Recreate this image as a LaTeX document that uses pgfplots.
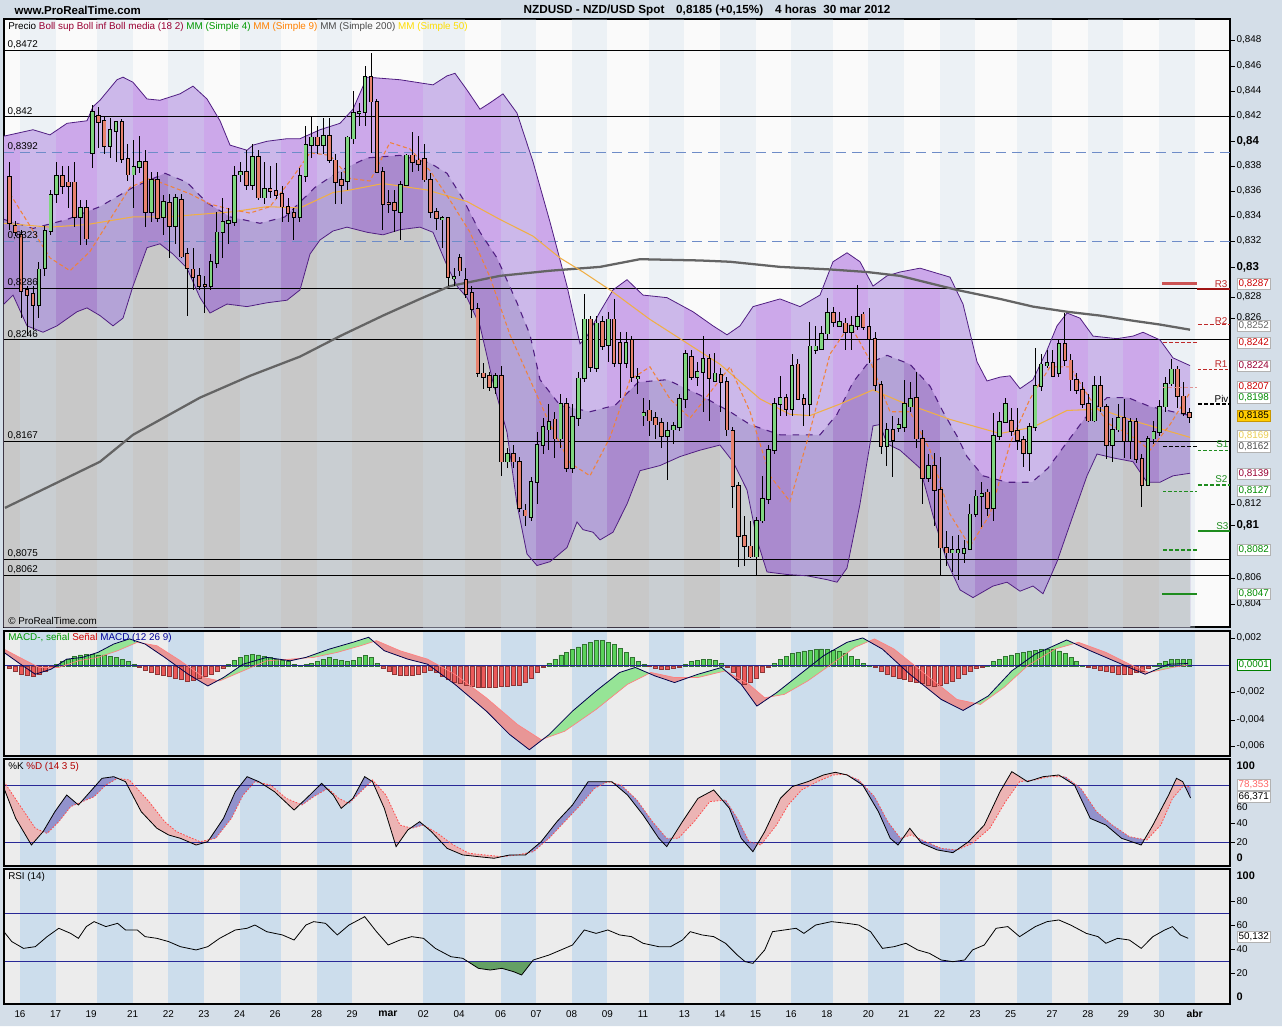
\documentclass[border=0pt]{standalone}
\usepackage{fontspec}
\setmainfont{Liberation Sans}
\usepackage{pgfplots}
\usepackage{pgfplotstable}
\pgfplotsset{compat=1.18}
\usepgfplotslibrary{fillbetween}

\definecolor{bgout}{RGB}{212,222,232}
\definecolor{stripe}{RGB}{204,221,236}
\definecolor{panelbg}{RGB}{236,236,236}
\definecolor{pricebg}{RGB}{250,250,250}
\definecolor{bollup}{RGB}{204,168,234}
\definecolor{bolldn}{RGB}{170,138,206}
\definecolor{greyarea}{RGB}{200,200,200}
\definecolor{bollline}{RGB}{80,30,130}
\definecolor{candg}{RGB}{128,214,128}
\definecolor{candr}{RGB}{232,130,110}
\definecolor{ma200}{RGB}{100,100,100}
\definecolor{ma50}{RGB}{240,175,70}
\definecolor{ma9}{RGB}{240,130,60}
\definecolor{histg}{RGB}{90,210,90}
\definecolor{histr}{RGB}{235,90,90}
\definecolor{ribg}{RGB}{150,228,150}
\definecolor{ribr}{RGB}{232,150,150}
\definecolor{kblue}{RGB}{146,146,204}
\definecolor{dpink}{RGB}{236,180,180}
\definecolor{lvlblue}{RGB}{40,40,150}
\definecolor{dashblue}{RGB}{110,140,200}
\definecolor{pivred}{RGB}{190,40,40}
\definecolor{pivdark}{RGB}{160,20,20}
\definecolor{pivgreen}{RGB}{30,140,30}
\definecolor{rsigreen}{RGB}{100,160,100}

% even calendar days are shaded
\newcommand\daystripes[3]{%
  \foreach \a/\b in {20/55.6,97.1/132.7,168.3/203.9,239.5/281,316.6/352.2,423.4/464.9,500.5/536.1,571.7/607.3,648.8/684.4,720/755.6,791.2/832.7,868.3/903.9,939.5/975.1,1016.6/1052.2,1087.8/1123.4,1159/1194.6}{%
    \edef\tmp{\noexpand\fill[#1] (axis cs:\a,#2) rectangle (axis cs:\b,#3);}\tmp}}

\pgfplotsset{
  panel/.style={scale only axis, width=919.5pt, xmin=4, xmax=1230,
    xtick=\empty, ytick=\empty, anchor=north west,
    axis line style={line width=0.8pt}, clip=true},
  wick/.style={draw=none, no markers, forget plot, error bars/.cd, y dir=both, y explicit,
    error mark=none, error bar style={draw=black, line width=0.75pt}},
  bodyo/.style={draw=none, no markers, forget plot, error bars/.cd, y dir=both, y explicit,
    error mark=none, error bar style={draw=black, line width=3.4pt}},
  bodyi/.style={draw=none, no markers, forget plot, error bars/.cd, y dir=both, y explicit,
    error mark=none, error bar style={draw=#1, line width=2.0pt}},
}

% candles: i = bar number, bh/bl = body top/bottom, wh/wl = wick top/bottom
\pgfplotstableread{
i bh bl wh wl
6 .8301 .8273 .8307 .8263
7 .8331 .8302 .8335 .8296
8 .8359 .8331 .8363 .8328
9 .8374 .8360 .8385 .8353
13 .8349 .8342 .8355 .8320
15 .8424 .8392 .8429 .8380
18 .8410 .8397 .8419 .8388
19 .8416 .8409 .8417 .8385
22 .8381 .8375 .8402 .8349
23 .8385 .8381 .8405 .8376
25 .8371 .8346 .8377 .8338
27 .8354 .8342 .8359 .8328
29 .8357 .8335 .8360 .8321
35 .8307 .8288 .8313 .8285
36 .8330 .8306 .8346 .8302
37 .8338 .8330 .8357 .8310
38 .8339 .8337 .8349 .8321
39 .8374 .8338 .8382 .8335
40 .8377 .8375 .8385 .8369
42 .8389 .8367 .8399 .8363
44 .8364 .8357 .8385 .8352
50 .8374 .8342 .8380 .8338
51 .8398 .8374 .8413 .8369
52 .8404 .8398 .8421 .8388
54 .8405 .8398 .8419 .8391
58 .8404 .8370 .8405 .8363
59 .8423 .8403 .8440 .8399
60 .8424 .8423 .8431 .8413
61 .8451 .8424 .8460 .8413
67 .8367 .8346 .8370 .8324
68 .8390 .8367 .8391 .8366
74 .8341 .8340 .8343 .8318
76 .8295 .8294 .8302 .8288
83 .8218 .8209 .8220 .8204
85 .8157 .8151 .8162 .8146
89 .8135 .8108 .8139 .8105
90 .8164 .8135 .8174 .8118
91 .8178 .8164 .8185 .8157
92 .8182 .8176 .8196 .8160
94 .8196 .8169 .8204 .8162
96 .8186 .8146 .8196 .8142
97 .8216 .8185 .8221 .8179
98 .8262 .8216 .8282 .8213
100 .8259 .8224 .8265 .8221
102 .8262 .8242 .8268 .8229
105 .8244 .8228 .8252 .8224
107 .8217 .8216 .8224 .8204
108 .8189 .8187 .8201 .8179
112 .8175 .8171 .8182 .8137
113 .8179 .8176 .8182 .8165
114 .8200 .8178 .8204 .8175
115 .8235 .8200 .8238 .8193
117 .8221 .8217 .8229 .8210
118 .8231 .8221 .8249 .8190
120 .8220 .8214 .8236 .8213
127 .8105 .8077 .8108 .8062
128 .8122 .8105 .8140 .8103
129 .8160 .8122 .8164 .8118
130 .8196 .8160 .8201 .8157
131 .8201 .8196 .8218 .8187
133 .8226 .8192 .8235 .8187
136 .8241 .8196 .8260 .8187
137 .8241 .8238 .8257 .8235
138 .8251 .8239 .8257 .8238
139 .8267 .8251 .8279 .8246
141 .8260 .8257 .8268 .8256
143 .8257 .8252 .8265 .8238
144 .8264 .8257 .8289 .8254
149 .8176 .8163 .8181 .8148
151 .8180 .8177 .8185 .8174
152 .8196 .8178 .8215 .8174
153 .8200 .8194 .8213 .8190
156 .8148 .8138 .8157 .8135
160 .8082 .8080 .8093 .8065
161 .8082 .8080 .8094 .8059
162 .8083 .8080 .8090 .8072
163 .8110 .8083 .8118 .8082
164 .8124 .8110 .8129 .8108
165 .8126 .8124 .8135 .8100
167 .8171 .8115 .8189 .8105
168 .8182 .8171 .8190 .8168
169 .8196 .8182 .8201 .8181
173 .8178 .8158 .8181 .8144
174 .8210 .8178 .8240 .8175
175 .8227 .8210 .8235 .8206
176 .8228 .8226 .8238 .8224
178 .8243 .8220 .8246 .8217
184 .8210 .8183 .8218 .8182
187 .8176 .8164 .8185 .8151
188 .8185 .8176 .8196 .8174
190 .8182 .8167 .8185 .8153
193 .8169 .8133 .8171 .8132
194 .8174 .8169 .8183 .8165
195 .8194 .8174 .8199 .8171
196 .8212 .8194 .8217 .8190
197 .8223 .8212 .8231 .8210
}\candG

\pgfplotstableread{
i bh bl wh wl
1 .8373 .8337 .8385 .8332
2 .8335 .8330 .8339 .8327
3 .8328 .8284 .8332 .8263
4 .8285 .8281 .8288 .8249
5 .8282 .8273 .8288 .8254
10 .8374 .8366 .8382 .8360
11 .8369 .8366 .8382 .8349
12 .8369 .8342 .8385 .8334
14 .8349 .8325 .8355 .8320
16 .8421 .8416 .8428 .8396
17 .8417 .8397 .8421 .8391
20 .8416 .8387 .8418 .8384
21 .8387 .8375 .8399 .8370
24 .8385 .8346 .8394 .8334
26 .8371 .8341 .8377 .8338
28 .8353 .8335 .8360 .8310
30 .8355 .8311 .8360 .8310
31 .8313 .8302 .8318 .8265
32 .8301 .8295 .8318 .8285
33 .8296 .8288 .8302 .8285
34 .8289 .8288 .8296 .8267
41 .8377 .8367 .8394 .8363
43 .8389 .8357 .8394 .8355
45 .8364 .8362 .8382 .8357
46 .8362 .8359 .8384 .8356
47 .8360 .8350 .8366 .8338
48 .8350 .8345 .8357 .8338
49 .8345 .8342 .8349 .8324
53 .8404 .8398 .8413 .8391
55 .8405 .8386 .8419 .8384
56 .8386 .8369 .8391 .8352
57 .8371 .8367 .8377 .8352
62 .8451 .8432 .8470 .8392
63 .8432 .8377 .8434 .8376
64 .8377 .8352 .8381 .8332
65 .8353 .8352 .8363 .8345
66 .8353 .8347 .8363 .8330
69 .8390 .8385 .8408 .8377
70 .8386 .8383 .8405 .8378
71 .8387 .8371 .8399 .8369
72 .8371 .8346 .8376 .8341
73 .8346 .8341 .8349 .8332
75 .8341 .8295 .8342 .8288
77 .8310 .8300 .8313 .8296
78 .8293 .8282 .8302 .8279
79 .8283 .8270 .8288 .8263
80 .8270 .8220 .8275 .8217
81 .8220 .8217 .8228 .8208
82 .8218 .8209 .8221 .8206
84 .8218 .8151 .8226 .8140
86 .8157 .8151 .8164 .8146
87 .8151 .8115 .8155 .8112
88 .8113 .8109 .8118 .8101
93 .8184 .8169 .8190 .8154
95 .8196 .8146 .8201 .8143
99 .8262 .8225 .8265 .8221
101 .8260 .8241 .8265 .8238
103 .8262 .8228 .8278 .8225
104 .8244 .8228 .8252 .8201
106 .8246 .8217 .8249 .8213
109 .8191 .8183 .8199 .8171
110 .8185 .8180 .8190 .8169
111 .8181 .8171 .8185 .8162
116 .8233 .8217 .8238 .8215
119 .8231 .8216 .8235 .8183
121 .8219 .8213 .8224 .8190
122 .8213 .8176 .8217 .8171
123 .8175 .8132 .8178 .8115
124 .8132 .8093 .8135 .8069
125 .8093 .8085 .8109 .8070
126 .8085 .8077 .8105 .8076
132 .8201 .8192 .8204 .8187
134 .8227 .8200 .8231 .8199
135 .8200 .8196 .8204 .8179
140 .8267 .8260 .8272 .8256
142 .8259 .8252 .8263 .8238
145 .8266 .8256 .8268 .8254
146 .8256 .8247 .8271 .8228
147 .8247 .8211 .8252 .8206
148 .8211 .8163 .8214 .8157
150 .8176 .8168 .8187 .8139
154 .8201 .8169 .8221 .8162
155 .8169 .8138 .8176 .8118
157 .8148 .8129 .8158 .8101
158 .8129 .8084 .8155 .8063
159 .8084 .8080 .8097 .8070
166 .8127 .8115 .8130 .8109
170 .8183 .8175 .8193 .8171
171 .8175 .8168 .8193 .8160
172 .8168 .8158 .8171 .8147
177 .8228 .8218 .8238 .8217
179 .8243 .8230 .8267 .8226
180 .8230 .8215 .8235 .8206
181 .8215 .8207 .8220 .8204
182 .8207 .8196 .8213 .8193
183 .8196 .8183 .8204 .8182
185 .8210 .8194 .8218 .8190
186 .8194 .8164 .8196 .8153
189 .8185 .8167 .8200 .8154
191 .8182 .8153 .8185 .8150
192 .8153 .8133 .8157 .8116
198 .8223 .8202 .8226 .8193
199 .8202 .8189 .8213 .8187
200 .8189 .8186 .8193 .8181
}\candR

% Bollinger (18,2) and moving averages, x in chart pixels
\pgfplotstableread{
x y
4 .8405
33 .8410
50 .8406
67 .8415
87 .8417
93 .8428
100 .8433
117 .8449
123 .8451
133 .8447
147 .8434
160 .8433
180 .8438
193 .8444
207 .8434
220 .8417
230 .8398
247 .8394
253 .8398
267 .8401
287 .8403
300 .8403
320 .8410
340 .8415
353 .8426
367 .8451
400 .8449
433 .8445
447 .8452
455 .8454
467 .8441
480 .8426
490 .8431
503 .8438
517 .8423
533 .8385
550 .8338
567 .8288
580 .8243
587 .8249
600 .8268
613 .8285
627 .8293
643 .8281
667 .8279
693 .8268
713 .8257
727 .8250
740 .8257
753 .8272
780 .8278
800 .8272
820 .8281
833 .8307
847 .8314
860 .8307
873 .8288
887 .8296
900 .8299
920 .8302
950 .8295
963 .8274
977 .8229
987 .8214
1000 .8217
1010 .8218
1020 .8208
1033 .8215
1047 .8238
1057 .8257
1067 .8267
1080 .8263
1093 .8249
1117 .8247
1133 .8249
1143 .8252
1160 .8246
1173 .8232
1190 .8226
}\bollU

\pgfplotstableread{
x y
4 .8274
13 .8281
27 .8257
43 .8252
57 .8257
77 .8268
87 .8271
100 .8265
113 .8257
123 .8263
133 .8288
147 .8318
160 .8321
173 .8313
187 .8302
200 .8279
210 .8267
227 .8274
247 .8272
267 .8275
287 .8277
300 .8285
310 .8313
320 .8324
333 .8331
347 .8334
367 .8330
383 .8328
400 .8332
420 .8334
433 .8330
447 .8304
457 .8288
467 .8279
480 .8257
493 .8213
507 .8174
517 .8118
527 .8079
537 .8070
550 .8073
567 .8084
577 .8104
583 .8098
593 .8096
600 .8090
613 .8096
627 .8118
640 .8144
660 .8148
680 .8155
700 .8160
720 .8164
733 .8151
747 .8129
757 .8090
767 .8065
787 .8063
807 .8062
827 .8059
837 .8057
847 .8068
860 .8118
873 .8179
880 .8180
887 .8165
900 .8160
920 .8146
933 .8109
947 .8073
960 .8051
973 .8045
993 .8054
1007 .8057
1020 .8050
1033 .8054
1043 .8048
1057 .8073
1073 .8109
1087 .8140
1097 .8157
1113 .8154
1133 .8151
1147 .8135
1160 .8135
1173 .8140
1190 .8142
}\bollL

\pgfplotstableread{
x y
4 .8340
33 .8333
67 .8340
100 .8350
133 .8365
165 .8376
187 .8369
207 .8353
230 .8342
260 .8337
285 .8342
315 .8365
340 .8378
367 .8388
400 .8390
430 .8384
447 .8376
463 .8356
480 .8330
497 .8310
517 .8275
530 .8250
540 .8215
560 .8195
590 .8190
615 .8195
638 .8213
667 .8215
700 .8203
730 .8190
750 .8180
780 .8172
820 .8172
837 .8188
853 .8213
867 .8227
887 .8234
910 .8227
930 .8210
943 .8190
957 .8171
967 .8155
983 .8140
1007 .8135
1032 .8135
1048 .8146
1063 .8162
1085 .8185
1107 .8201
1128 .8201
1150 .8194
1190 .8187
}\bollM

\pgfplotstableread{
x y
5 .8115
50 .8132
100 .8151
133 .8172
200 .8201
250 .8218
300 .8233
340 .8249
383 .8265
420 .8278
450 .8288
500 .8296
550 .8300
600 .8303
640 .8309
700 .8308
730 .8307
780 .8303
830 .8301
867 .8299
900 .8296
957 .8285
1000 .8278
1033 .8272
1067 .8268
1100 .8265
1133 .8261
1160 .8258
1190 .8254
}\maCC

\pgfplotstableread{
x y
4 .8337
50 .8334
87 .8336
133 .8342
167 .8342
233 .8346
267 .8350
300 .8349
333 .8361
350 .8363
383 .8368
427 .8363
467 .8354
500 .8340
533 .8327
560 .8310
583 .8299
610 .8285
650 .8262
690 .8242
720 .8227
760 .8200
790 .8188
810 .8187
840 .8196
873 .8207
900 .8198
950 .8184
1000 .8173
1033 .8178
1067 .8191
1100 .8192
1133 .8183
1190 .8170
}\maL

\pgfplotstableread{
x y
10 .8360
30 .8335
50 .8310
70 .8300
90 .8315
110 .8340
130 .8365
150 .8372
170 .8366
190 .8360
210 .8352
230 .8348
250 .8345
270 .8350
290 .8370
310 .8392
330 .8390
350 .8372
370 .8370
390 .8400
410 .8395
430 .8378
450 .8355
470 .8330
490 .8295
510 .8250
530 .8215
550 .8180
570 .8150
590 .8140
610 .8170
630 .8215
650 .8225
670 .8200
690 .8185
710 .8205
730 .8225
750 .8190
770 .8140
790 .8120
810 .8175
830 .8235
850 .8258
870 .8230
890 .8190
910 .8190
930 .8160
950 .8110
970 .8085
990 .8110
1010 .8165
1030 .8200
1050 .8225
1070 .8225
1090 .8200
1110 .8180
1130 .8172
1150 .8160
1170 .8180
1190 .8205
}\maN

% MACD histogram, one value per bar
\pgfplotstableread[row sep=\\]{
i h\\ 1 -2e-4\\ 2 -4e-4\\ 3 -6e-4\\ 4 -7e-4\\ 5 -7.5e-4\\ 6 -6e-4\\ 7 -4e-4\\ 8 -1e-4\\ 9 1e-4\\ 10 3e-4\\
11 5e-4\\ 12 7e-4\\ 13 8e-4\\ 14 8.5e-4\\ 15 8.5e-4\\ 16 8e-4\\ 17 8e-4\\ 18 7e-4\\ 19 6e-4\\ 20 5e-4\\
21 3e-4\\ 22 1e-4\\ 23 -1e-4\\ 24 -3e-4\\ 25 -5e-4\\ 26 -6e-4\\ 27 -7e-4\\ 28 -8e-4\\ 29 -9e-4\\ 30 -10e-4\\
31 -11e-4\\ 32 -10.5e-4\\ 33 -9.5e-4\\ 34 -8e-4\\ 35 -6e-4\\ 36 -4e-4\\ 37 -2e-4\\ 38 1e-4\\ 39 4e-4\\ 40 6e-4\\
41 7.5e-4\\ 42 8.5e-4\\ 43 8e-4\\ 44 7e-4\\ 45 6e-4\\ 46 5e-4\\ 47 4e-4\\ 48 3e-4\\ 49 1e-4\\ 50 0.5e-4\\
51 1e-4\\ 52 2e-4\\ 53 3.5e-4\\ 54 5e-4\\ 55 6e-4\\ 56 5e-4\\ 57 4e-4\\ 58 3e-4\\ 59 4e-4\\ 60 6e-4\\
61 7.5e-4\\ 62 6e-4\\ 63 2e-4\\ 64 -2e-4\\ 65 -4e-4\\ 66 -6e-4\\ 67 -7e-4\\ 68 -7e-4\\ 69 -7e-4\\ 70 -6e-4\\
71 -5e-4\\ 72 -3e-4\\ 73 -5e-4\\ 74 -8e-4\\ 75 -10e-4\\ 76 -12e-4\\ 77 -13e-4\\ 78 -14e-4\\ 79 -15e-4\\ 80 -15.5e-4\\
81 -16e-4\\ 82 -16e-4\\ 83 -15.5e-4\\ 84 -15e-4\\ 85 -15e-4\\ 86 -14.5e-4\\ 87 -14e-4\\ 88 -12e-4\\ 89 -9e-4\\ 90 -5e-4\\
91 -1e-4\\ 92 2e-4\\ 93 5e-4\\ 94 8e-4\\ 95 10e-4\\ 96 12e-4\\ 97 14e-4\\ 98 16e-4\\ 99 17.5e-4\\ 100 18.5e-4\\
101 18.5e-4\\ 102 17.5e-4\\ 103 16e-4\\ 104 13e-4\\ 105 10e-4\\ 106 6e-4\\ 107 3e-4\\ 108 1e-4\\ 109 -0.5e-4\\ 110 -2e-4\\
111 -2.5e-4\\ 112 -2.5e-4\\ 113 -2e-4\\ 114 -1e-4\\ 115 1e-4\\ 116 3e-4\\ 117 4e-4\\ 118 5e-4\\ 119 5e-4\\ 120 4e-4\\
121 2e-4\\ 122 -1e-4\\ 123 -5e-4\\ 124 -10e-4\\ 125 -13.5e-4\\ 126 -12e-4\\ 127 -9e-4\\ 128 -5e-4\\ 129 -1e-4\\ 130 2e-4\\
131 5e-4\\ 132 7e-4\\ 133 9e-4\\ 134 10e-4\\ 135 11e-4\\ 136 11.5e-4\\ 137 12e-4\\ 138 12.5e-4\\ 139 12e-4\\ 140 11.5e-4\\
141 10.5e-4\\ 142 9e-4\\ 143 7e-4\\ 144 5e-4\\ 145 2e-4\\ 146 0.5e-4\\ 147 -1e-4\\ 148 -4e-4\\ 149 -6e-4\\ 150 -8e-4\\
151 -9e-4\\ 152 -10e-4\\ 153 -11e-4\\ 154 -12e-4\\ 155 -13e-4\\ 156 -14e-4\\ 157 -15e-4\\ 158 -14e-4\\ 159 -13e-4\\ 160 -11e-4\\
161 -9e-4\\ 162 -6e-4\\ 163 -4e-4\\ 164 -2e-4\\ 165 -1e-4\\ 166 0.5e-4\\ 167 3e-4\\ 168 5e-4\\ 169 7e-4\\ 170 8e-4\\
171 9e-4\\ 172 10e-4\\ 173 11e-4\\ 174 11.5e-4\\ 175 12e-4\\ 176 12.5e-4\\ 177 12e-4\\ 178 11e-4\\ 179 9e-4\\ 180 6e-4\\
181 3e-4\\ 182 0.5e-4\\ 183 -1e-4\\ 184 -2e-4\\ 185 -3e-4\\ 186 -4e-4\\ 187 -5e-4\\ 188 -6e-4\\ 189 -6.5e-4\\ 190 -6e-4\\
191 -5e-4\\ 192 -4e-4\\ 193 -2e-4\\ 194 0.5e-4\\ 195 2e-4\\ 196 3.5e-4\\ 197 4.5e-4\\ 198 5e-4\\ 199 5e-4\\ 200 4.5e-4\\
}\hist

\pgfplotstableread{
x y
3.9 0.00099
19.6 0.00017
35.3 -0.00062
51 -0.00025
66.7 0.00049
82.4 0.00062
98 0.00099
113.7 0.00160
129.4 0.00198
145.1 0.00160
164.7 0.00062
188.2 -0.00062
207.8 -0.00148
223.5 -0.00086
243.1 0.00012
266.7 0.00062
290.2 0.00037
305.9 0.00062
329.4 0.00123
352.9 0.00173
368.6 0.00210
384.3 0.00111
407.8 0.00049
427.5 0.00012
454.9 -0.00136
486.3 -0.00333
509.8 -0.00506
529.4 -0.00617
549 -0.00506
572.5 -0.00333
596.1 -0.00185
619.6 -0.00049
635.3 -0.00012
654.9 -0.00074
674.5 -0.00123
698 -0.00062
721.6 -0.00012
741.2 -0.00136
756.9 -0.00296
776.5 -0.00198
800 -0.00062
823.5 0.00074
847.1 0.00173
862.7 0.00205
882.4 0.00123
909.8 -0.00062
941.2 -0.00247
963.1 -0.00328
988.2 -0.00222
1011.8 -0.00037
1035.3 0.00086
1066.7 0.00190
1090.2 0.00111
1113.7 0.00037
1145.1 -0.00062
1168.6 0.00012
1188.2 0.00017
}\macd

\pgfplotstableread{
x y
3.9 0.00123
19.6 0.00062
39.2 -0.00012
58.8 -0.00012
78.4 0.00037
98 0.00062
117.6 0.00111
137.3 0.00173
156.9 0.00148
180.4 0.00037
203.9 -0.00086
219.6 -0.00111
243.1 -0.00037
266.7 0.00037
290.2 0.00049
313.7 0.00062
337.3 0.00099
360.8 0.00148
376.5 0.00185
400 0.00111
427.5 0.00049
454.9 -0.00062
486.3 -0.00235
517.6 -0.00432
541.2 -0.00543
564.7 -0.00481
596.1 -0.00321
627.5 -0.00136
651 -0.00049
674.5 -0.00086
698 -0.00086
725.5 -0.00037
749 -0.00136
764.7 -0.00235
784.3 -0.00210
807.8 -0.00111
831.4 0.00012
854.9 0.00136
874.5 0.00198
894.1 0.00123
925.5 -0.00062
956.9 -0.00247
980.4 -0.00284
1003.9 -0.00160
1027.5 0.00000
1055 0.00123
1078.4 0.00173
1105.9 0.00099
1129.4 0.00012
1149 -0.00049
1172.5 -0.00012
1188.2 0.00007
}\signal

\pgfplotstableread{
x y
4 76.5
15.7 45.1
31.4 17.2
43.1 31.2
54.9 52.1
66.7 69.5
78.4 59.1
90.2 73.0
102 87.0
113.7 88.7
125.5 83.5
141.2 52.1
156.9 34.7
168.6 27.7
180.4 24.2
196.1 17.2
207.8 20.7
223.5 45.1
235.3 73.0
247.1 88.7
258.8 83.5
274.5 73.0
294.1 53.8
309.8 69.5
321.6 81.7
333.3 69.5
341.2 55.6
352.9 66.0
364.7 88.7
372.5 83.5
384.3 55.6
396.1 15.5
407.8 32.9
419.6 41.6
431.4 31.2
447.1 13.7
462.7 6.8
478.4 5.0
494.1 3.3
509.8 6.8
525.5 6.8
541.2 20.7
556.9 41.6
572.5 59.1
588.2 83.5
600 83.5
611.8 83.5
627.5 69.5
643.1 48.6
658.8 24.2
666.7 15.5
682.4 41.6
698 66.0
713.7 74.8
729.4 55.6
741.2 24.2
752.9 10.2
764.7 31.2
780.4 66.0
792.2 78.3
807.8 83.5
823.5 90.5
835.3 93.3
847.1 90.5
862.7 80.0
878.4 52.1
890.2 24.2
898 17.2
909.8 34.7
921.6 19.0
937.3 12.0
952.9 9.2
968.6 20.7
984.3 38.1
1000 73.0
1011.8 94.0
1027.5 83.5
1043.1 88.7
1058.8 90.5
1074.5 80.0
1090.2 45.1
1105.9 38.1
1121.6 24.2
1141.2 17.2
1152.9 38.1
1168.6 69.5
1176.5 87.0
1182.7 83.5
1190.6 66.4
}\stK

\pgfplotstableread{
x y
4 83.5
19.6 59.1
35.3 34.7
47.1 29.4
58.8 41.6
70.6 57.3
82.4 62.6
94.1 67.8
105.9 80.0
117.6 87.0
129.4 85.2
149 62.6
164.7 41.6
176.5 31.2
188.2 25.9
200 20.7
215.7 24.2
231.4 45.1
243.1 69.5
254.9 83.5
270.6 80.0
286.3 66.0
302 59.1
313.7 67.8
327.8 76.5
338.8 66.0
349 60.8
360.8 73.0
372.5 85.2
385.9 69.5
400 38.1
411.8 34.7
423.5 38.1
437.6 29.4
453.3 17.2
469 8.5
484.7 6.8
502 5.0
517.6 6.8
533.3 10.2
549 24.2
564.7 41.6
580.4 59.1
594.5 76.5
607.8 83.5
621.2 80.0
636.9 64.3
652.5 41.6
666.7 24.2
678.4 24.2
694.1 41.6
709.8 62.6
725.5 64.3
737.3 45.1
749 20.7
760.8 17.2
776.5 38.1
788.2 59.1
801.6 74.8
817.3 83.5
832.9 90.5
845.5 91.2
858.8 85.2
874.5 67.8
887.8 41.6
900.4 24.2
911.4 27.7
925.5 20.7
941.2 13.7
956.9 12.0
972.5 19.0
989.8 34.7
1005.5 62.6
1019.6 83.5
1033.7 85.2
1049.4 88.7
1065.1 88.7
1080.8 76.5
1096.5 52.1
1112.2 38.1
1129.4 25.9
1146.7 22.4
1160.8 38.1
1172.5 66.0
1182.7 78.3
1190.6 78.3
}\stD

\pgfplotstableread{
x y
3.9 54.8
11.8 46.6
23.5 41.0
35.3 42.4
47.1 50.7
58.8 57.6
70.6 53.4
78.4 49.3
86.3 59.0
94.1 63.1
105.9 59.0
117.6 61.7
125.5 56.2
137.3 56.2
145.1 50.7
156.9 49.3
168.6 46.6
180.4 42.4
196.1 39.7
207.8 42.4
219.6 49.3
235.3 56.2
247.1 57.6
254.9 60.3
266.7 54.8
282.4 52.1
294.1 47.9
305.9 60.3
313.7 63.1
325.5 61.7
337.3 52.1
349 60.3
364.7 67.2
376.5 54.8
388.2 43.8
400 47.9
411.8 50.7
423.5 49.3
435.3 41.0
451 34.1
462.7 32.8
478.4 24.5
490.2 23.1
502 24.5
513.7 21.7
521.6 19.0
533.3 31.4
549 35.5
564.7 41.0
572.5 43.8
584.3 56.2
596.1 53.4
607.8 56.2
619.6 52.1
631.4 50.7
643.1 45.2
658.8 42.4
670.6 42.4
682.4 47.9
690.2 54.8
702 52.1
713.7 50.7
725.5 45.2
737.3 35.5
745.1 30.0
752.9 28.6
764.7 39.7
772.5 54.8
784.3 56.2
796.1 57.6
803.9 53.4
815.7 60.3
831.4 63.1
847.1 61.7
858.8 60.3
870.6 54.8
882.4 41.0
894.1 42.4
905.9 45.2
917.6 39.7
929.4 36.9
941.2 31.4
952.9 30.0
964.7 31.4
972.5 39.7
984.3 43.8
996.1 57.6
1007.8 59.0
1019.6 50.7
1035.3 59.0
1047.1 63.1
1058.8 64.5
1070.6 60.3
1086.3 53.4
1098 50.7
1105.9 45.2
1117.6 49.3
1129.4 47.9
1141.2 41.0
1152.9 50.7
1164.7 56.2
1172.5 59.0
1180.4 52.1
1188.2 49.3
}\rsi

\newcommand\lvl[3]{\addplot[#1, forget plot] coordinates {(#2,#3) (1230,#3)};}

\begin{document}
\begin{tikzpicture}
\begin{scope}[x=0.75pt,y=-0.75pt]
  % outer frame colour, with holes where the layered indicator panels sit
  \fill[bgout, even odd rule] (0,0) rectangle (1282,1026)
     (4,631) rectangle (1230,756) (4,759) rectangle (1230,866) (4,869) rectangle (1230,1004);
\end{scope}

% ---------------- price panel ----------------
\begin{axis}[panel, at={(3pt,-14.25pt)}, height=456pt,
  ymin=0.802205, ymax=0.849638, axis background/.style={fill=pricebg}]
  \addplot[fill=bollup, draw=none, forget plot] table {\bollU} \closedcycle;
  \addplot[fill=bolldn, draw=none, forget plot] table {\bollM} \closedcycle;
  \addplot[fill=greyarea, draw=none, forget plot] table {\bollL} \closedcycle;
  \daystripes{stripe,opacity=0.3}{0.80}{0.85}
  % horizontal levels
  \lvl{black, line width=0.75pt}{4}{0.8472}
  \lvl{black, line width=0.75pt}{4}{0.842}
  \lvl{dashblue, line width=0.75pt, dash pattern=on 7.5pt off 4.5pt}{4}{0.8392}
  \lvl{dashblue, line width=0.75pt, dash pattern=on 7.5pt off 4.5pt}{4}{0.8323}
  \lvl{black, line width=0.75pt}{4}{0.8286}
  \lvl{black, line width=0.75pt}{4}{0.8246}
  \lvl{black, line width=0.75pt}{4}{0.8167}
  \lvl{black, line width=0.75pt}{4}{0.8075}
  \lvl{black, line width=0.75pt}{4}{0.8062}
  % bands and averages
  \addplot[bollline, line width=0.6pt, forget plot] table {\bollU};
  \addplot[bollline, line width=0.6pt, forget plot] table {\bollL};
  \addplot[bollline, line width=0.8pt, dash pattern=on 5pt off 5pt, forget plot] table {\bollM};
  \addplot[ma200, line width=1.7pt, forget plot] table {\maCC};
  \addplot[ma50, line width=0.8pt, forget plot] table {\maL};
  \addplot[ma9, line width=0.8pt, dash pattern=on 3pt off 2pt, forget plot] table {\maN};
  % candles
  \addplot[wick] table[x expr=3.37+5.93*\thisrow{i}, y expr=0.5*(\thisrow{wh}+\thisrow{wl}), y error expr=0.5*(\thisrow{wh}-\thisrow{wl})] {\candG};
  \addplot[wick] table[x expr=3.37+5.93*\thisrow{i}, y expr=0.5*(\thisrow{wh}+\thisrow{wl}), y error expr=0.5*(\thisrow{wh}-\thisrow{wl})] {\candR};
  \addplot[bodyo] table[x expr=3.37+5.93*\thisrow{i}, y expr=0.5*(\thisrow{bh}+\thisrow{bl}), y error expr=0.5*(\thisrow{bh}-\thisrow{bl})+0.00006] {\candG};
  \addplot[bodyo] table[x expr=3.37+5.93*\thisrow{i}, y expr=0.5*(\thisrow{bh}+\thisrow{bl}), y error expr=0.5*(\thisrow{bh}-\thisrow{bl})+0.00006] {\candR};
  \addplot[bodyi=candg] table[x expr=3.37+5.93*\thisrow{i}, y expr=0.5*(\thisrow{bh}+\thisrow{bl}), y error expr=0.5*(\thisrow{bh}-\thisrow{bl})] {\candG};
  \addplot[bodyi=candr] table[x expr=3.37+5.93*\thisrow{i}, y expr=0.5*(\thisrow{bh}+\thisrow{bl}), y error expr=0.5*(\thisrow{bh}-\thisrow{bl})] {\candR};
  % pivot points
  \addplot[pivred!80, line width=1.9pt, forget plot] coordinates {(1162,0.8290) (1197,0.8290)};
  \addplot[pivdark, line width=1.6pt, forget plot] coordinates {(1197,0.8286) (1230,0.8286)};
  \addplot[pivred, line width=1.2pt, dash pattern=on 3pt off 1.5pt, forget plot] coordinates {(1198,0.8258) (1230,0.8258)};
  \addplot[pivred, line width=1.2pt, dash pattern=on 3pt off 1.5pt, forget plot] coordinates {(1163,0.8244) (1197,0.8244)};
  \addplot[pivred, line width=0.6pt, dash pattern=on 2.5pt off 1.5pt, forget plot] coordinates {(1198,0.8223) (1230,0.8223)};
  \addplot[pivred!50, line width=0.6pt, dash pattern=on 2.5pt off 1.5pt, forget plot] coordinates {(1163,0.8209) (1197,0.8209)};
  \addplot[black, line width=1.2pt, dash pattern=on 3pt off 1.5pt, forget plot] coordinates {(1198,0.8196) (1230,0.8196)};
  \addplot[black, line width=1.2pt, dash pattern=on 3pt off 1.5pt, forget plot] coordinates {(1163,0.8163) (1197,0.8163)};
  \addplot[pivgreen, line width=0.6pt, dash pattern=on 2.5pt off 1.5pt, forget plot] coordinates {(1198,0.8160) (1230,0.8160)};
  \addplot[pivgreen, line width=1.2pt, dash pattern=on 3pt off 1.5pt, forget plot] coordinates {(1198,0.8133) (1230,0.8133)};
  \addplot[pivgreen, line width=0.6pt, dash pattern=on 2.5pt off 1.5pt, forget plot] coordinates {(1163,0.8128) (1197,0.8128)};
  \addplot[pivgreen, line width=1.4pt, forget plot] coordinates {(1198,0.8097) (1230,0.8097)};
  \addplot[pivgreen, line width=1.2pt, dash pattern=on 3pt off 1.5pt, forget plot] coordinates {(1163,0.8082) (1197,0.8082)};
  \addplot[pivgreen, line width=1.4pt, forget plot] coordinates {(1162,0.8048) (1197,0.8048)};
\end{axis}

% ---------------- MACD panel ----------------
\begin{axis}[panel, set layers, axis on top, at={(3pt,-473.25pt)}, height=93.75pt,
  ymin=-0.006632, ymax=0.002559]
  \begin{pgfonlayer}{axis background}
    \fill[panelbg] (axis cs:4,-0.006632) rectangle (axis cs:1230,0.002559);
    \daystripes{stripe}{-0.006632}{0.002559}
  \end{pgfonlayer}
  \addplot[ybar, bar width=3pt, bar shift=0pt, fill=histg, draw=histg!55!black, line width=0.4pt, restrict y to domain=0:1, forget plot] table[x expr=3.37+5.93*\thisrow{i}, y=h] {\hist};
  \addplot[ybar, bar width=3pt, bar shift=0pt, fill=histr, draw=histr!60!black, line width=0.4pt, restrict y to domain=-1:0, forget plot] table[x expr=3.37+5.93*\thisrow{i}, y=h] {\hist};
  \addplot[lvlblue, line width=0.75pt, forget plot] coordinates {(4,0) (1230,0)};
  \addplot[draw=none, name path=macdp, forget plot] table {\macd};
  \addplot[draw=none, name path=sigp, forget plot] table {\signal};
  \addplot[draw=none, forget plot] fill between[of=macdp and sigp, split,
     every even segment/.style={fill=ribr}, every odd segment/.style={fill=ribg}];
  \addplot[red!50, line width=0.5pt, forget plot] table {\signal};
  \addplot[blue!30!black, line width=0.6pt, forget plot] table {\macd};
\end{axis}

% ---------------- Stochastic panel ----------------
\begin{axis}[panel, set layers, axis on top, at={(3pt,-569.25pt)}, height=80.25pt,
  ymin=-4.8, ymax=107.2]
  \begin{pgfonlayer}{axis background}
    \fill[panelbg] (axis cs:4,-4.8) rectangle (axis cs:1230,107.2);
    \daystripes{stripe}{-4.8}{107.2}
  \end{pgfonlayer}
  \addplot[lvlblue, line width=0.75pt, forget plot] coordinates {(4,80) (1230,80)};
  \addplot[lvlblue, line width=0.75pt, forget plot] coordinates {(4,20) (1230,20)};
  \addplot[draw=none, name path=kp, forget plot] table {\stK};
  \addplot[draw=none, name path=dp, forget plot] table {\stD};
  \addplot[draw=none, forget plot] fill between[of=kp and dp, split,
     every even segment/.style={fill=dpink}, every odd segment/.style={fill=kblue}];
  \addplot[red!70, line width=0.6pt, dash pattern=on 1.2pt off 1.2pt, forget plot] table {\stD};
  \addplot[black, line width=0.6pt, forget plot] table {\stK};
\end{axis}

% ---------------- RSI panel ----------------
\begin{axis}[panel, set layers, axis on top, at={(3pt,-651.75pt)}, height=101.25pt,
  ymin=-5, ymax=106.6]
  \begin{pgfonlayer}{axis background}
    \fill[panelbg] (axis cs:4,-5) rectangle (axis cs:1230,106.6);
    \daystripes{stripe}{-5}{106.6}
  \end{pgfonlayer}
  \addplot[lvlblue, line width=0.75pt, forget plot] coordinates {(4,70) (1230,70)};
  \addplot[draw=none, name path=thirty, forget plot] coordinates {(4,30) (1230,30)};
  \addplot[draw=none, name path=rsip, forget plot] table {\rsi};
  \addplot[fill=rsigreen, draw=none, forget plot] fill between[of=rsip and thirty, soft clip={domain=468:531}];
  \addplot[lvlblue, line width=0.75pt, forget plot] coordinates {(4,30) (1230,30)};
  \addplot[black, line width=0.6pt, forget plot] table {\rsi};
\end{axis}

% ---------------- texts ----------------
\begin{scope}[x=0.75pt,y=-0.75pt, font=\fontsize{7.4}{8.8}\selectfont,
  box/.style={anchor=west, draw=gray!60, fill=white, inner sep=1pt, minimum height=8.25pt}]
  % header
  \node[anchor=west, font=\bfseries\fontsize{8.6}{10}\selectfont] at (10,10) {www.ProRealTime.com};
  \node[anchor=west, font=\bfseries\fontsize{8.8}{10}\selectfont] at (519,10)
     {NZDUSD - NZD/USD Spot\quad 0,8185 (+0,15\%)\quad 4 horas\ \ 30 mar 2012};
  % legends
  \node[anchor=west, inner sep=0pt] at (8,27) {Precio \textcolor{purple!80!black}{Boll sup Boll inf Boll media (18 2)} \textcolor{green!60!black}{MM (Simple 4)} \textcolor{orange}{MM (Simple 9)} \textcolor{black!70}{MM (Simple 200)} \textcolor{yellow!80!orange}{MM (Simple 50)}};
  \node[anchor=west, inner sep=0pt] at (8,621) {© ProRealTime.com};
  \node[anchor=west, inner sep=0pt] at (8,638) {\textcolor{green!60!black}{MACD-, señal} \textcolor{red!80!black}{Señal} \textcolor{blue!60!black}{MACD (12 26 9)}};
  \node[anchor=west, inner sep=0pt] at (8,767) {\%K \textcolor{red!70!black}{\%D (14 3 5)}};
  \node[anchor=west, inner sep=0pt] at (8,877) {RSI (14)};
  % level labels
  \foreach \y/\t in {50.3/{0,8472},116.9/{0,842},152.8/{0,8392},241.2/{0,8323},288.6/{0,8286},339.9/{0,8246},441.2/{0,8167},559.1/{0,8075},575.8/{0,8062}}
    \node[anchor=south west, inner sep=1pt] at (6,\y) {\t};
  % price scale
  \foreach \y/\t in {40/{0,848},66/{0,846},91/{0,844},116/{0,842},166/{0,838},191/{0,836},216/{0,834},241/{0,832},297/{0,828},318/{0,826},504/{0,812},578/{0,806},604/{0,804}}{
    \draw (1231,\y) -- (1235,\y);
    \node[anchor=west, inner sep=1pt] at (1235,\y) {\t};}
  \foreach \y/\t in {141/{0,84},267/{0,83},525/{0,81}}{
    \draw (1231,\y) -- (1235,\y);
    \node[anchor=west, inner sep=1pt, font=\bfseries\fontsize{8.6}{10}\selectfont] at (1235,\y) {\t};}
  \node[box, text=red!80!black] at (1237,284) {0,8287};
  \node[box, text=black!60] at (1237,326) {0,8252};
  \node[box, text=red!80!black] at (1237,343) {0,8242};
  \node[box, text=purple!80!black] at (1237,366) {0,8224};
  \node[box, text=red!80!black] at (1237,387) {0,8207};
  \node[box, text=green!55!black] at (1237,398) {0,8198};
  \node[box, fill={rgb,255:red,255;green,204;blue,0}, draw={rgb,255:red,200;green,150;blue,0}] at (1237,416) {0,8185};
  \node[box, text={rgb,255:red,235;green,205;blue,80}] at (1237,436) {0,8169};
  \node[box, text=black!70] at (1237,447) {0,8162};
  \node[box, text=purple!80!black] at (1237,474) {0,8139};
  \node[box, text=green!55!black] at (1237,491) {0,8127};
  \node[box, text=green!55!black] at (1237,550) {0,8082};
  \node[box, text=green!55!black] at (1237,594) {0,8047};
  % pivot names
  \node[text=pivred, anchor=south east, inner sep=1pt] at (1229,289) {R3};
  \node[text=pivred, anchor=south east, inner sep=1pt] at (1229,326) {R2};
  \node[text=pivred, anchor=south east, inner sep=1pt] at (1229,369) {R1};
  \node[anchor=south east, inner sep=1pt] at (1230,404) {Piv};
  \node[text=pivgreen, anchor=south east, inner sep=1pt] at (1230,449) {S1};
  \node[text=pivgreen, anchor=south east, inner sep=1pt] at (1229,484) {S2};
  \node[text=pivgreen, anchor=south east, inner sep=1pt] at (1230,531) {S3};
  % MACD scale
  \foreach \y/\t in {638/{0,002},692/{-0,002},720/{-0,004},746/{-0,006}}{
    \draw (1231,\y) -- (1235,\y);
    \node[anchor=west, inner sep=1pt] at (1235,\y) {\t};}
  \node[box, text=green!55!black, draw=green!50!black] at (1237,665) {0,0001};
  % stochastic scale
  \foreach \y/\t in {823/{40},842/{20}}{
    \draw (1231,\y) -- (1235,\y);
    \node[anchor=west, inner sep=1pt] at (1235,\y) {\t};}
  \node[anchor=west, inner sep=1pt, font=\bfseries\fontsize{8.2}{10}\selectfont] at (1235,766) {100};
  \node[anchor=west, inner sep=1pt, font=\bfseries\fontsize{8.2}{10}\selectfont] at (1235,858) {0};
  \node[anchor=west, inner sep=1pt] at (1235,807) {60};
  \node[box, text=red!60] at (1237,785) {78,353};
  \node[box] at (1237,797) {66,371};
  % RSI scale
  \foreach \y/\t in {901/{80},925/{60},949/{40},973/{20}}{
    \draw (1231,\y) -- (1235,\y);
    \node[anchor=west, inner sep=1pt] at (1235,\y) {\t};}
  \node[anchor=west, inner sep=1pt, font=\bfseries\fontsize{8.2}{10}\selectfont] at (1235,876) {100};
  \node[anchor=west, inner sep=1pt, font=\bfseries\fontsize{8.2}{10}\selectfont] at (1235,997) {0};
  \node[box] at (1237,937) {50,132};
  % dates
  \foreach \x/\t in {20/16,55.6/17,91.2/19,132.7/21,168.3/22,203.9/23,239.5/24,275.1/26,316.6/28,352.2/29,423.4/02,459/04,500.5/06,536.1/07,571.7/08,607.3/09,642.9/11,684.4/13,720/14,755.6/15,791.2/16,826.8/18,868.3/20,903.9/21,939.5/22,975.1/23,1010.7/25,1052.2/27,1087.8/28,1123.4/29,1159/30}
    \node at (\x,1014) {\t};
  \node[font=\bfseries\fontsize{7.8}{9}\selectfont] at (387.8,1014) {mar};
  \node[font=\bfseries\fontsize{7.8}{9}\selectfont] at (1194.6,1014) {abr};
\end{scope}
\end{tikzpicture}
\end{document}
